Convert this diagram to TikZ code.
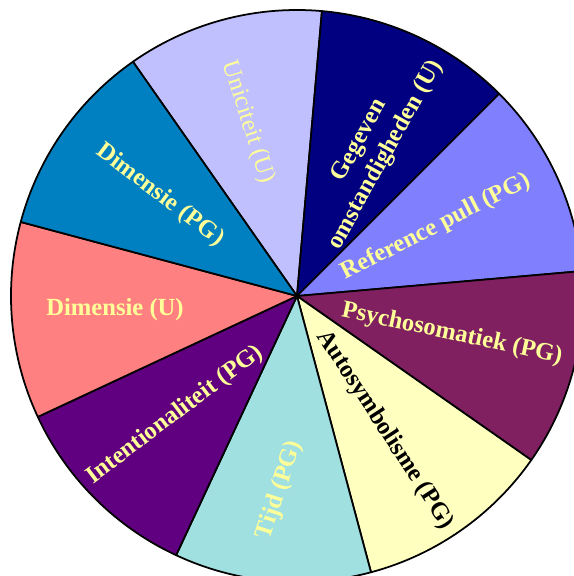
\documentclass[tikz,border=0pt]{standalone}
\usepackage{fontspec}
\setmainfont{Liberation Serif}
\definecolor{pielavender}{HTML}{C0C0FF}
\definecolor{pienavy}{HTML}{000080}
\definecolor{pieperiwinkle}{HTML}{8080FF}
\definecolor{pieplum}{HTML}{802060}
\definecolor{piecream}{HTML}{FFFFC0}
\definecolor{pieaqua}{HTML}{A0E0E0}
\definecolor{piepurple}{HTML}{600080}
\definecolor{piesalmon}{HTML}{FF8080}
\definecolor{pieocean}{HTML}{0080C0}
\definecolor{labelyellow}{HTML}{FFFF99}
\tikzset{
  pieslice/.style={
    fill=#1, draw=black, line width=1pt, line join=round
  },
  slicelabel/.style={
    font=\fontsize{14}{17}\selectfont\bfseries, text=labelyellow,
    align=center, inner sep=0pt
  },
}

\begin{document}
\begin{tikzpicture}[x=0.02cm, y=0.02cm]
  \useasboundingbox (-297,-280) rectangle (277,296);
  \clip (-297,-280) rectangle (277,296);

  % Slices (start angle / colour)
  \foreach \a/\col in {85/pielavender, 45/pienavy, 5/pieperiwinkle,
                       -35/pieplum, -75/piecream, -115/pieaqua,
                       -155/piepurple, 165/piesalmon, 125/pieocean}
    \draw[pieslice=\col] (0,0) -- (\a:286)
      arc[start angle=\a, end angle=\a+40, radius=286] -- cycle;

  % Labels
  \node[slicelabel, font=\fontsize{14}{17}\selectfont, rotate=-72] (unic) at (-49,174) {Uniciteit (U)};
  \node[slicelabel, rotate=61] (gegev) at (76,148) {Gegeven\\omstandigheden (U)};
  \node[slicelabel, rotate=27] (refpull) at (139,69) {Reference pull (PG)};
  \node[slicelabel, rotate=-12] (psycho) at (155,-38) {Psychosomatiek (PG)};
  \node[slicelabel, text=black, rotate=-57] (autosym) at (88,-134) {Autosymbolisme (PG)};
  \node[slicelabel, rotate=72] (tijd) at (-17,-194) {Tijd (PG)};
  \node[slicelabel, rotate=37] (intent) at (-122,-119) {Intentionaliteit (PG)};
  \node[slicelabel] (dimu) at (-182,-14) {Dimensie (U)};
  \node[slicelabel, rotate=-37] (dimpg) at (-137,101) {Dimensie (PG)};
\end{tikzpicture}
\end{document}
